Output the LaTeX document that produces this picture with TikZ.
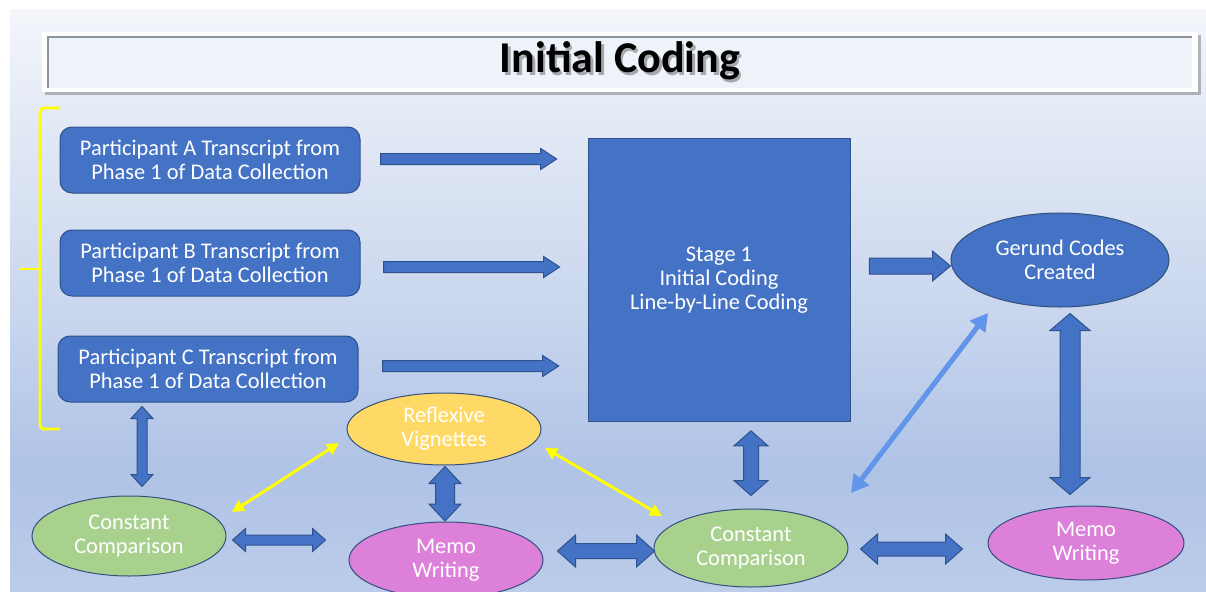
\documentclass[tikz,border=0pt]{standalone}
\usepackage{fontspec}
\setmainfont{Carlito}
\usetikzlibrary{calc,arrows.meta,shapes.geometric}

\definecolor{boxblue}{HTML}{4472C4}
\definecolor{boxedge}{HTML}{2F528F}
\definecolor{leafgreen}{HTML}{A9D18E}
\definecolor{memopink}{HTML}{DC80DA}
\definecolor{vigyellow}{HTML}{FFD966}
\definecolor{ovaledge}{HTML}{34507E}
\definecolor{linkblue}{HTML}{6095EA}
\definecolor{brightyellow}{HTML}{FFFF00}
\definecolor{bgtop}{HTML}{F3F5FA}
\definecolor{bgmid}{HTML}{C6D4ED}
\definecolor{bglow}{HTML}{AFC3E6}
\definecolor{bgbot}{HTML}{BCCCEA}
\definecolor{bandfill}{HTML}{EEF2F9}
\definecolor{bandline}{HTML}{8E9299}

% filled block arrow with one head: start, end, shaft half-width, head half-width, head length (px)
\newcommand\blockarrow[5]{%
  \filldraw[blockarr] let \p1=#1, \p2=#2,
    \n1={atan2(\y2-\y1,\x2-\x1)}, \n2={veclen(\x2-\x1,\y2-\y1)} in
    [shift={(\p1)}, rotate=\n1]
    (0pt,{#3*0.75pt}) -- ({\n2-#5*0.75pt},{#3*0.75pt}) -- ({\n2-#5*0.75pt},{#4*0.75pt})
    -- ({\n2+0pt},0pt) -- ({\n2-#5*0.75pt},{-#4*0.75pt})
    -- ({\n2-#5*0.75pt},{-#3*0.75pt}) -- (0pt,{-#3*0.75pt}) -- cycle;}
% filled block arrow with a head at both ends
\newcommand\blockdouble[5]{%
  \filldraw[blockarr] let \p1=#1, \p2=#2,
    \n1={atan2(\y2-\y1,\x2-\x1)}, \n2={veclen(\x2-\x1,\y2-\y1)} in
    [shift={(\p1)}, rotate=\n1]
    (0pt,0pt) -- ({#5*0.75pt},{#4*0.75pt}) -- ({#5*0.75pt},{#3*0.75pt})
    -- ({\n2-#5*0.75pt},{#3*0.75pt}) -- ({\n2-#5*0.75pt},{#4*0.75pt}) -- ({\n2+0pt},0pt)
    -- ({\n2-#5*0.75pt},{-#4*0.75pt}) -- ({\n2-#5*0.75pt},{-#3*0.75pt})
    -- ({#5*0.75pt},{-#3*0.75pt}) -- ({#5*0.75pt},{-#4*0.75pt}) -- cycle;}

\tikzset{
  every node/.style={font=\fontsize{16.8}{18}\selectfont, text=white, align=center},
  transcript/.style={rectangle, rounded corners=9pt, fill=boxblue, draw=boxedge,
    line width=0.75pt, minimum width=225pt, minimum height=49.5pt, inner sep=0pt},
  stagebox/.style={rectangle, fill=boxblue, draw=boxedge, line width=0.5pt,
    minimum width=196.5pt, minimum height=212.25pt, inner sep=0pt},
  oval/.style={ellipse, draw=ovaledge, line width=0.75pt, inner sep=0pt},
  blockarr/.style={fill=boxblue, draw=boxedge, line width=0.75pt, line join=miter},
  glowlink/.style={brightyellow, line width=2.2pt,
    {Triangle[length=9pt,width=9pt]}-{Triangle[length=9pt,width=9pt]}},
  skylink/.style={linkblue, line width=3.8pt,
    {Triangle[length=13pt,width=14pt]}-{Triangle[length=13pt,width=14pt]}},
  headline/.style={text=black, font=\fontsize{33}{36}\selectfont\bfseries, anchor=base},
}

\begin{document}
\begin{tikzpicture}[x=0.75pt, y=-0.75pt]
  \useasboundingbox (0,0) rectangle (1206,592);
  \clip (0,0) rectangle (1206,592);
  \fill[white] (0,0) rectangle (1206,592);

  % backdrop
  \shade[top color=bgtop, bottom color=bgmid] (10,10) rectangle (1206,330);
  \shade[top color=bgmid, bottom color=bglow] (10,329.5) rectangle (1206,470);
  \shade[top color=bglow, bottom color=bgbot] (10,469.5) rectangle (1206,592);

  % title band
  \fill[black, opacity=0.25] (45,35) rectangle (1201,95);
  \fill[white] (42,32) rectangle (1198,92);
  \fill[bandfill] (48,37) rectangle (1192,88);
  \draw[bandline, line width=1.5pt] (48,88) -- (48,37) -- (1192,37);
  \node[headline, opacity=0.3] (titleshadow) at (622.5,75.5) {Initial Coding};
  \node[headline] (title) at (620,73) {Initial Coding};

  % bracket grouping the transcripts
  \draw[brightyellow, line width=2.2pt, rounded corners=3pt]
    (60,108) -- (40,108) -- (40,429) -- (60,429);
  \draw[brightyellow, line width=2.2pt] (40,269) -- (19,269);

  % nodes
  \node[transcript] (pa) at (210,160) {Participant A Transcript from\\Phase 1 of Data Collection};
  \node[transcript] (pb) at (210,263) {Participant B Transcript from\\Phase 1 of Data Collection};
  \node[transcript] (pc) at (208,369) {Participant C Transcript from\\Phase 1 of Data Collection};
  \node[stagebox] (stage) at (719,280) {Stage 1\\Initial Coding\\Line-by-Line Coding};
  \node[oval, fill=boxblue, minimum width=163.5pt, minimum height=70.5pt]
    (gerund) at (1060,260) {Gerund Codes\\Created};
  \node[oval, fill=memopink, minimum width=147pt, minimum height=55.5pt]
    (memoR) at (1086,543) {Memo\\Writing};
  \node[oval, fill=leafgreen, minimum width=145.5pt, minimum height=58.5pt]
    (ccmid) at (751,548) {Constant\\Comparison};
  \node[oval, fill=memopink, minimum width=145.5pt, minimum height=57pt]
    (memoL) at (446,560) {Memo\\Writing};
  \node[oval, fill=vigyellow, minimum width=145.5pt, minimum height=54pt]
    (reflex) at (444,429) {Reflexive\\Vignettes};
  \node[oval, fill=leafgreen, minimum width=145.5pt, minimum height=60pt]
    (ccL) at (129,536) {Constant\\Comparison};

  % transcripts into stage 1
  \blockarrow{($(pa.east)+(20,-1)$)}{($(pa.east -| stage.west)+(-31,-1)$)}{5.5}{10.5}{16}
  \blockarrow{($(pb.east)+(23,4)$)}{($(pb.east -| stage.west)+(-28,4)$)}{5.5}{10.5}{16}
  \blockarrow{($(pc.east)+(24,-3)$)}{($(pc.east -| stage.west)+(-29,-3)$)}{5.5}{10.5}{16}
  % stage 1 to gerund codes
  \blockarrow{($(stage.east |- gerund.west)+(19,6)$)}{($(gerund.west)+(0,6)$)}{8}{15}{18}

  % two-way block arrows
  \blockdouble{($(stage.south -| ccmid.north)+(0,9)$)}{($(ccmid.north)+(0,-13)$)}{7.5}{17}{15}
  \blockdouble{($(ccmid.east)+(12,1)$)}{($(ccmid.east -| memoR.west)+(-25,1)$)}{7}{15}{17}
  \blockdouble{($(gerund.south)+(10,6)$)}{($(gerund.south |- memoR.north)+(10,-11)$)}{10}{20}{17}
  \blockdouble{($(memoL.east)+(14,-9)$)}{($(ccmid.west)+(1,3)$)}{7.5}{16}{18}
  \blockdouble{($(ccL.east)+(6,4)$)}{($(ccL.east -| memoL.west)+(-23,4)$)}{5}{11.5}{13}
  \blockdouble{($(pc.south -| ccL.north)+(13,4)$)}{($(ccL.north)+(13,-9)$)}{5}{11}{12}
  \blockdouble{($(reflex.south)+(1,1)$)}{($(memoL.north)+(-1,-0.5)$)}{9.5}{16}{17}

  % thin links
  \draw[glowlink] ($(ccL)+(103,-24)$) -- ($(reflex)+(-105,14)$);
  \draw[glowlink] ($(reflex)+(101,19)$) -- ($(ccmid)+(-89,-32)$);
  \draw[skylink] ($(gerund)+(-72,53)$) -- ($(ccmid)+(100,-55)$);
\end{tikzpicture}
\end{document}
